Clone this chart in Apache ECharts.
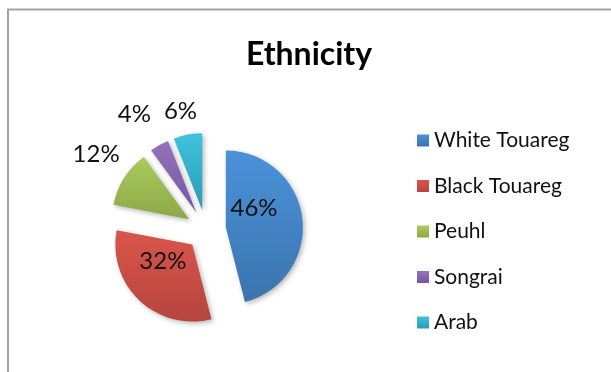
<!DOCTYPE html>
<html>
<head>
<meta charset="utf-8">
<script src="https://cdn.jsdelivr.net/npm/echarts@6/dist/echarts.min.js"></script>
<style>
  html, body { margin: 0; padding: 0; background: #fff; }
  #chart { width: 611px; height: 372px; }
</style>
</head>
<body>
<div id="chart"></div>
<script>
// Ethnic composition, in percent
const categories = ['White Touareg', 'Black Touareg', 'Peuhl', 'Songrai', 'Arab'];
const shares = [46, 32, 12, 4, 6];

// Slice fills: lighter at the top, darker at the bottom
const topColors = ['#4b92da', '#da554c', '#aacb5e', '#9473ba', '#40c2de'];
const bottomColors = ['#3a74ae', '#b5453d', '#8ca847', '#7556a0', '#2a9bb6'];

// Label nudges for each slice (px), moving the small slices' labels outside
const labelShifts = [[-13, -14], [-1, -14], [-58, -43], [-42, -62], [-14, -58]];

const chart = echarts.init(document.getElementById('chart'), null, { renderer: 'canvas' });

const data = categories.map((name, i) => ({
  name: name,
  value: shares[i],
  selected: true,
  itemStyle: {
    color: new echarts.graphic.LinearGradient(0, 0, 0, 1, [
      { offset: 0, color: topColors[i] },
      { offset: 1, color: bottomColors[i] }
    ])
  }
}));

chart.setOption({
  animation: false,
  backgroundColor: '#ffffff',
  graphic: [{
    type: 'rect',
    silent: true,
    shape: { x: 8, y: 9.5, width: 700, height: 500 },
    style: { fill: 'none', stroke: '#a3a3a3', lineWidth: 2 }
  }],
  title: {
    text: 'Ethnicity',
    left: 304,
    textAlign: 'center',
    top: 34,
    textStyle: {
      fontFamily: 'Lato',
      fontWeight: 'bold',
      fontSize: 32,
      color: '#000'
    }
  },
  legend: {
    orient: 'vertical',
    left: 412,
    top: 125,
    itemWidth: 12,
    itemHeight: 12,
    itemGap: 24.5,
    icon: 'rect',
    selectedMode: false,
    data: categories,
    textStyle: {
      fontFamily: 'Lato',
      fontSize: 21,
      lineHeight: 20,
      color: '#111'
    }
  },
  series: [{
    type: 'pie',
    center: [206, 230],
    radius: [0, 77],
    startAngle: 90,
    clockwise: true,
    selectedMode: 'multiple',
    selectedOffset: 20,
    avoidLabelOverlap: false,
    emphasis: { disabled: true },
    select: { itemStyle: { borderWidth: 0 } },
    itemStyle: {
      borderWidth: 0,
      shadowBlur: 5,
      shadowOffsetX: 2,
      shadowOffsetY: 2,
      shadowColor: 'rgba(0,0,0,0.28)'
    },
    label: {
      show: true,
      position: 'inside',
      formatter: '{c}%',
      fontFamily: 'Lato',
      fontSize: 24,
      color: '#111'
    },
    labelLine: { show: false },
    labelLayout: function (params) {
      const s = labelShifts[params.dataIndex];
      return { dx: s[0], dy: s[1] };
    },
    data: data
  }]
});
</script>
</body>
</html>
